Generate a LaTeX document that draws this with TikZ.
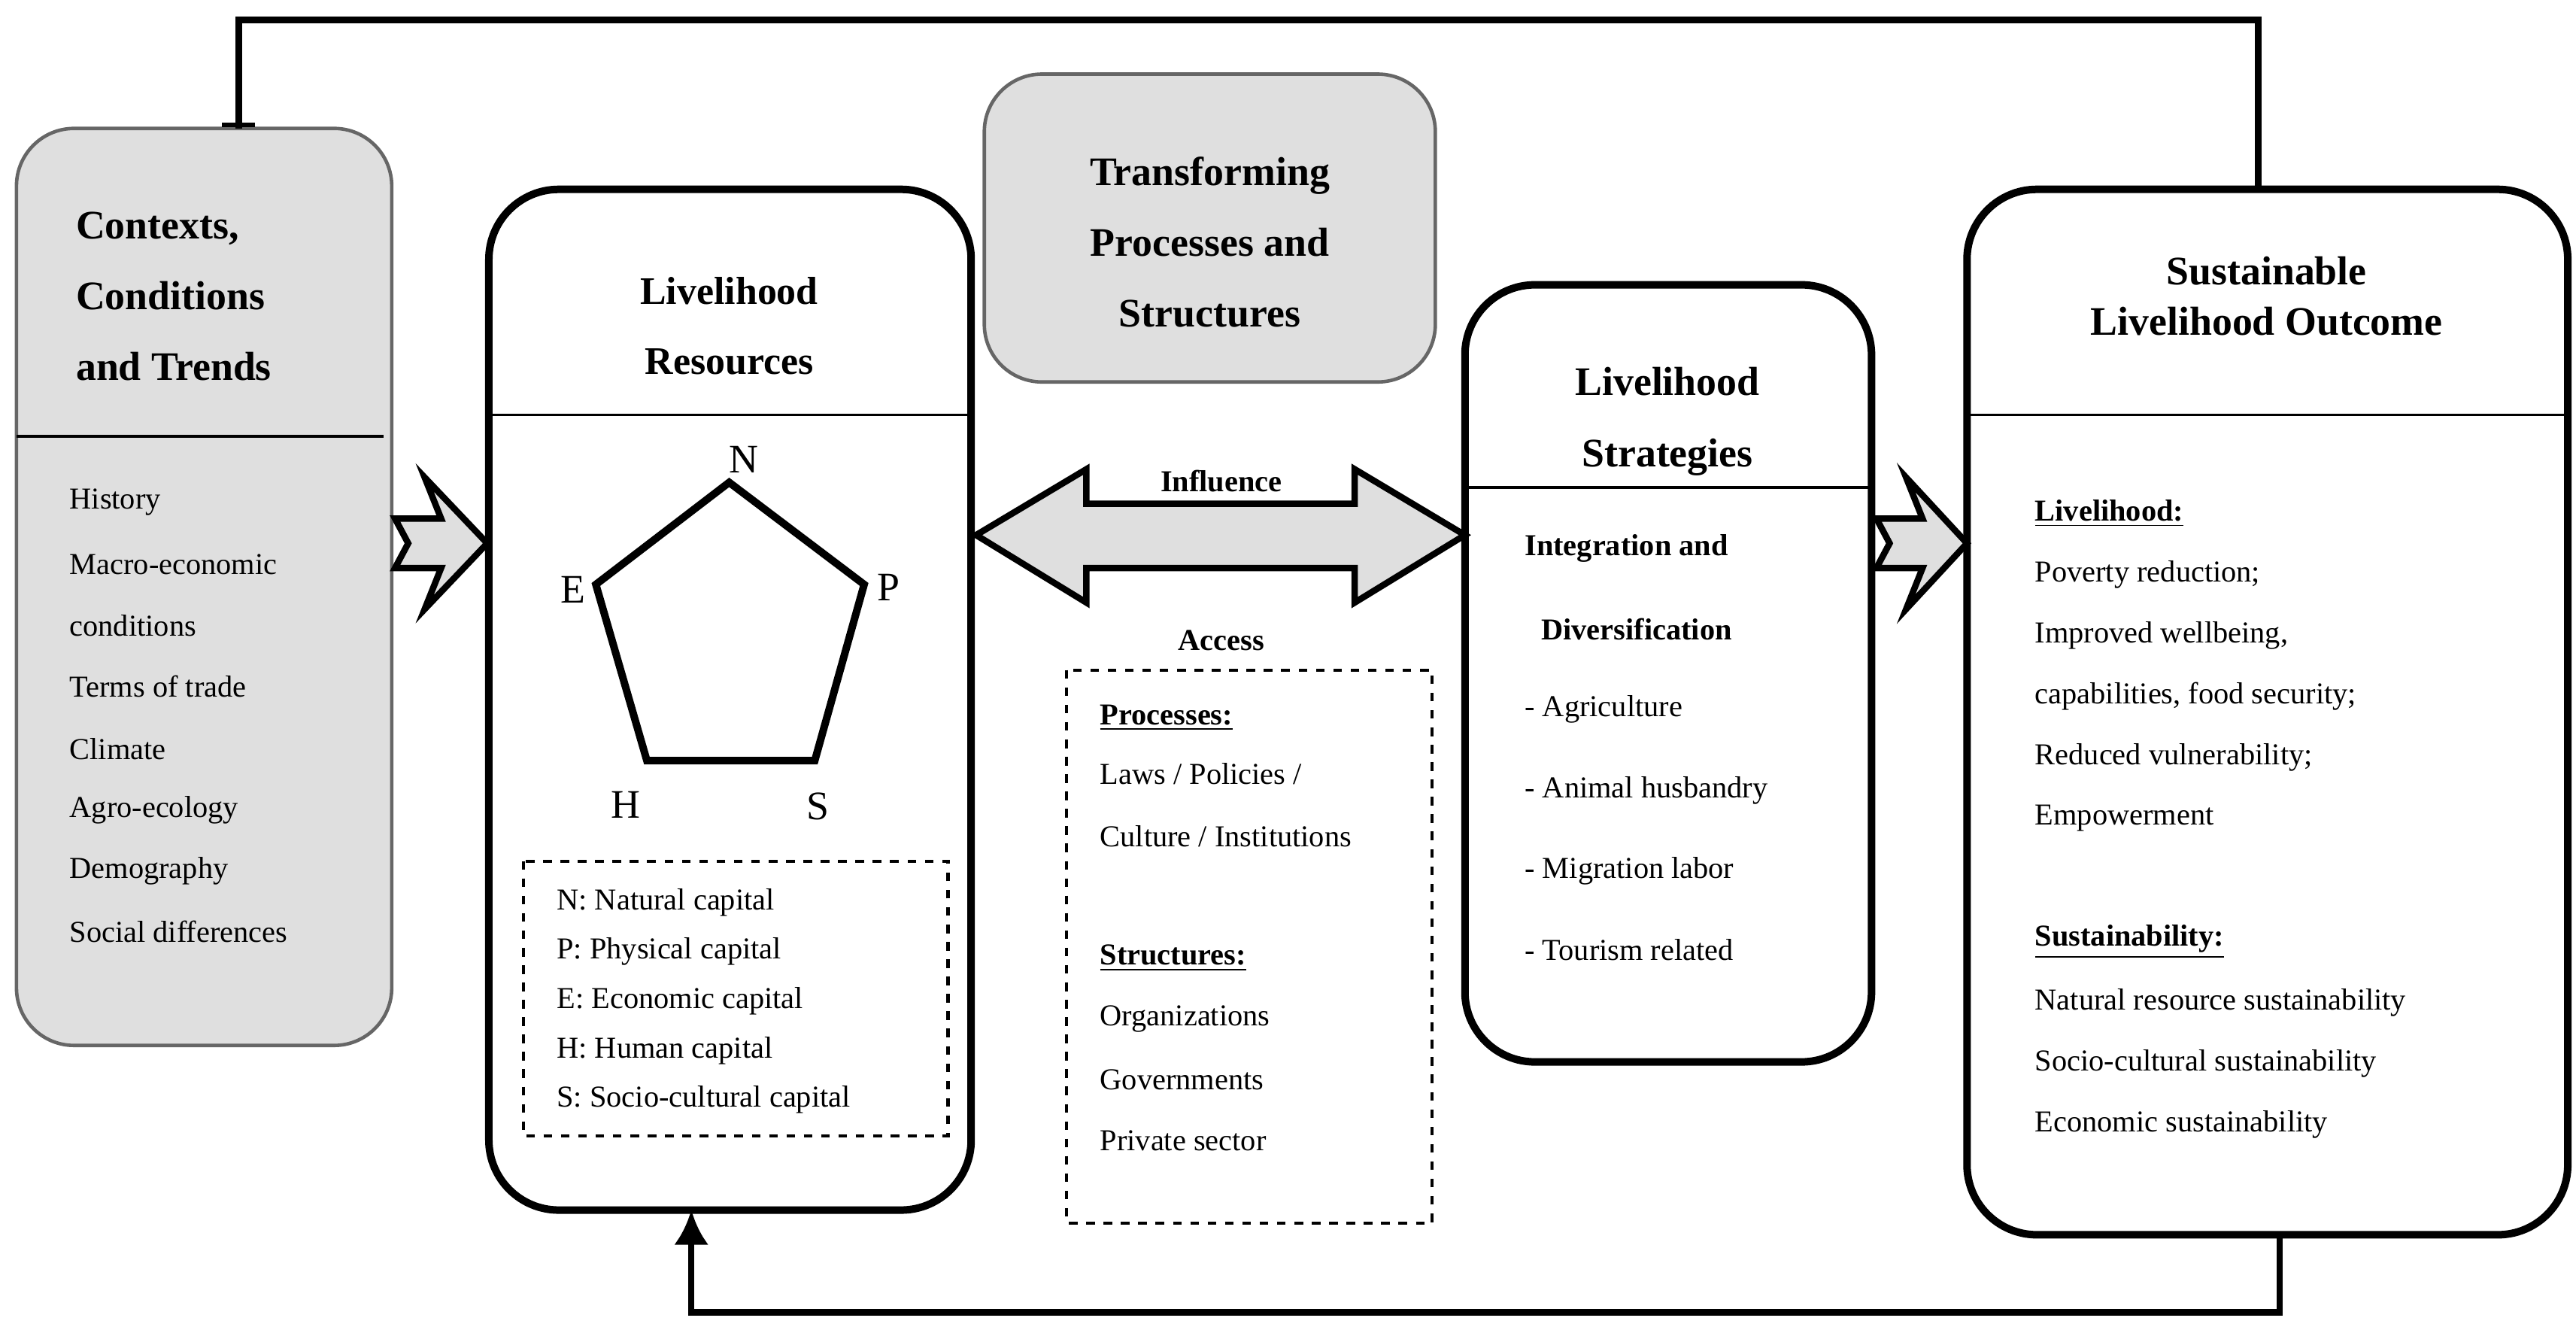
\documentclass[tikz,border=0pt]{standalone}
\usepackage{fontspec}
\setmainfont{Liberation Serif}
\usetikzlibrary{arrows.meta}
\begin{document}
\begin{tikzpicture}[x=0.02cm,y=-0.02cm,
  thickbox/.style={draw=black,line width=2.6pt,rounded corners=0.85cm},
  graybox/.style={draw=gray!80!black,line width=1.2pt,fill=gray!25,rounded corners=0.7cm},
  ttl/.style={font=\bfseries\fontsize{13.5}{15}\selectfont,align=center},
  itm/.style={anchor=west,font=\fontsize{10.5}{12}\selectfont,inner sep=0pt},
  bitm/.style={anchor=west,font=\bfseries\fontsize{10.5}{12}\selectfont,inner sep=0pt},
  dbox/.style={draw,dashed,line width=1.1pt},
  blk/.style={draw,line width=2.2pt,fill=gray!25,line join=miter}]
\useasboundingbox (0,0) rectangle (1565,806);
% feedback lines
\coordinate (t1) at (145,12); \coordinate (t2) at (1372,12);
\coordinate (b1) at (1385,797); \coordinate (b2) at (420,797);
% boxes
\draw[graybox] (10,78) rectangle (238,635);
\draw[line width=1pt] (10,265) -- (233,265);
\draw[thickbox] (297,115) rectangle (590,735);
\draw[line width=1pt] (297,252) -- (590,252);
\draw[graybox] (598,45) rectangle (872,232);
\draw[thickbox] (890,173) rectangle (1137,645);
\draw[line width=1pt] (890,296) -- (1137,296);
\draw[thickbox] (1195,115) rectangle (1560,750);
\draw[line width=1pt] (1195,252) -- (1560,252);
\coordinate (ctxtop) at (145,78); \coordinate (outtop) at (1372,115);
\coordinate (outbot) at (1385,750); \coordinate (resbot) at (420,735);
\draw[line width=2.2pt] (ctxtop) -- (t1) -- (t2) -- (outtop);
\draw[line width=1.5pt] (135,76) -- (155,76);
\draw[line width=2.2pt,-{Latex[length=12pt,width=12pt]}] (outbot) -- (b1) -- (b2) -- (resbot);
% titles
\node[ttl,anchor=west,align=left,font=\bfseries\fontsize{14}{24.5}\selectfont] (ctxt) at (40,180) {Contexts,\\Conditions\\and Trends};
\node[ttl,font=\bfseries\fontsize{13.5}{24}\selectfont] (rest) at (443,198) {Livelihood\\Resources};
\node[ttl,font=\bfseries\fontsize{14}{24.5}\selectfont] (trt) at (735,147) {Transforming\\Processes and\\Structures};
\node[ttl,font=\bfseries\fontsize{14}{24.5}\selectfont] (strt) at (1013,256) {Livelihood\\Strategies};
\node[ttl,font=\bfseries\fontsize{14}{17.5}\selectfont] (outt) at (1377,180) {Sustainable\\Livelihood Outcome};
% context items
\foreach \t/\y [count=\i] in {{History}/305,{Macro-economic}/343,{conditions}/380,{Terms of trade}/417,{Climate}/455,{Agro-ecology}/492,{Demography}/529,{Social differences}/566}
  \node[itm] (c\i) at (42,\y) {\t};
% pentagon
\coordinate (N) at (443,293); \coordinate (P) at (525,355); \coordinate (S) at (495,462);
\coordinate (H) at (393,462); \coordinate (E) at (362,355);
\draw[line width=2.6pt,line join=miter] (N) -- (P) -- (S) -- (H) -- (E) -- cycle;
\node[font=\fontsize{14}{16}\selectfont] (lN) at (452,279) {N};
\node[font=\fontsize{14}{16}\selectfont] (lP) at (540,357) {P};
\node[font=\fontsize{14}{16}\selectfont] (lS) at (497,490) {S};
\node[font=\fontsize{14}{16}\selectfont] (lH) at (380,489) {H};
\node[font=\fontsize{14}{16}\selectfont] (lE) at (348,358) {E};
\draw[dbox] (318,523) rectangle (576,690);
\foreach \t/\y [count=\i] in {{N: Natural capital}/548,{P: Physical capital}/578,{E: Economic capital}/608,{H: Human capital}/638,{S: Socio-cultural capital}/668}
  \node[itm] (r\i) at (338,\y) {\t};
% double arrow
\draw[blk] (593,325) -- (660,285) -- (660,306) -- (823,306) -- (823,285) -- (890,325) -- (823,366) -- (823,345) -- (660,345) -- (660,366) -- cycle;
\node[bitm,anchor=center] (infl) at (742,292) {Influence};
\node[bitm,anchor=center] (acc) at (742,389) {Access};
\draw[dbox] (648,407) rectangle (870,743);
\node[bitm] (pr) at (668,436) {\underline{Processes:}};
\node[itm] (p1) at (668,470) {Laws / Policies /};
\node[itm] (p2) at (668,508) {Culture / Institutions};
\node[bitm] (st) at (668,582) {\underline{Structures:}};
\node[itm] (s1) at (668,619) {Organizations};
\node[itm] (s2) at (668,656) {Governments};
\node[itm] (s3) at (668,693) {Private sector};
% small arrows
\draw[blk] (240,315) -- (268,315) -- (258,290) -- (296,330) -- (258,370) -- (268,345) -- (240,345) -- (248,330) -- cycle;
\draw[blk] (1140,315) -- (1168,315) -- (1158,290) -- (1195,330) -- (1158,370) -- (1168,345) -- (1140,345) -- (1148,330) -- cycle;
% strategies
\node[bitm] (ig) at (926,333) {Integration and};
\node[bitm] (dv) at (936,382) {Diversification};
\foreach \t/\y [count=\i] in {{- Agriculture}/431,{- Animal husbandry}/480,{- Migration labor}/529,{- Tourism related}/577}
  \node[itm] (g\i) at (926,\y) {\t};
% outcomes
\node[bitm] (lv) at (1236,312) {\underline{Livelihood:}};
\foreach \t/\y [count=\i] in {{Poverty reduction;}/349,{Improved wellbeing,}/386,{capabilities, food security;}/423,{Reduced vulnerability;}/460,{Empowerment}/497}
  \node[itm] (o\i) at (1236,\y) {\t};
\node[bitm] (su) at (1236,572) {\underline{Sustainability:}};
\foreach \t/\y [count=\i] in {{Natural resource sustainability}/609,{Socio-cultural sustainability}/646,{Economic sustainability}/683}
  \node[itm] (u\i) at (1236,\y) {\t};
\end{tikzpicture}
\end{document}
